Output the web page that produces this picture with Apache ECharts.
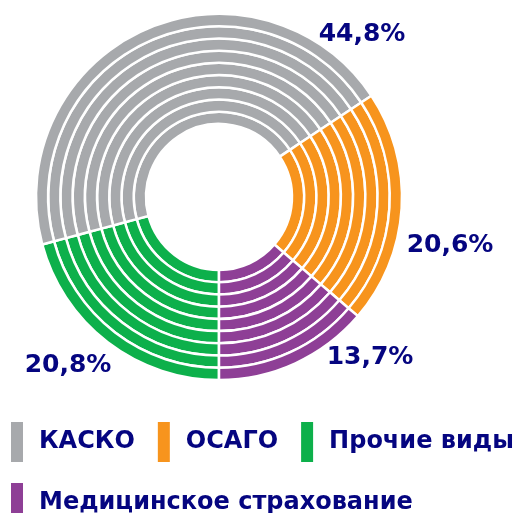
<!DOCTYPE html>
<html>
<head>
<meta charset="utf-8">
<script src="https://cdn.jsdelivr.net/npm/echarts@6/dist/echarts.min.js"></script>
<style>
  html, body { margin: 0; padding: 0; background: #fff; }
  #main { width: 531px; height: 513px; }
</style>
</head>
<body>
<div id="main"></div>
<script>
// categories in drawing order (clockwise starting at 6 o'clock)
var categories = ['Прочие виды', 'КАСКО', 'ОСАГО', 'Медицинское страхование'];
var shares = [20.8, 44.8, 20.6, 13.7];
var colors = ['#0DB04B', '#A7A9AC', '#F7941D', '#8E3F96'];
var legendOrder = ['КАСКО', 'ОСАГО', 'Прочие виды', 'Медицинское страхование'];

// where the percentage labels sit (label centre, px)
var labelPos = [[68, 365], [362, 34], [450, 245], [370, 357]];

var ringCount = 9;
var innerR = 73;
var outerR = 183;
var step = (outerR - innerR) / ringCount;
var navy = '#050580';

var chart = echarts.init(document.getElementById('main'));

var pieData = categories.map(function (name, i) {
  return { name: name, value: shares[i], itemStyle: { color: colors[i] } };
});

var series = [];
for (var r = 0; r < ringCount; r++) {
  var last = r === ringCount - 1;
  series.push({
    type: 'pie',
    center: [219, 197],
    radius: [innerR + r * step, innerR + (r + 1) * step],
    startAngle: -90,
    clockwise: true,
    avoidLabelOverlap: false,
    silent: true,
    itemStyle: { borderColor: '#fff', borderWidth: 2.5 },
    label: {
      show: last,
      formatter: function (p) {
        return p.value.toFixed(1).replace('.', ',') + '%';
      },
      color: navy,
      fontFamily: 'DejaVu Sans',
      fontWeight: 'bold',
      fontSize: 25
    },
    labelLine: { show: false },
    labelLayout: last ? function (p) {
      return {
        x: labelPos[p.dataIndex][0],
        y: labelPos[p.dataIndex][1],
        align: 'center',
        verticalAlign: 'middle'
      };
    } : null,
    data: pieData
  });
}

var option = {
  animation: false,
  legend: {
    data: legendOrder,
    left: 9,
    top: 420,
    width: 522,
    padding: 0,
    icon: 'rect',
    itemWidth: 14,
    itemHeight: 42,
    itemGap: 17,
    selectedMode: false,
    textStyle: {
      color: navy,
      fontFamily: 'DejaVu Sans',
      fontWeight: 'bold',
      fontSize: 24,
      lineHeight: 26,
      padding: [0, 4, 14, 10]
    }
  },
  series: series
};
chart.setOption(option);
</script>
</body>
</html>
